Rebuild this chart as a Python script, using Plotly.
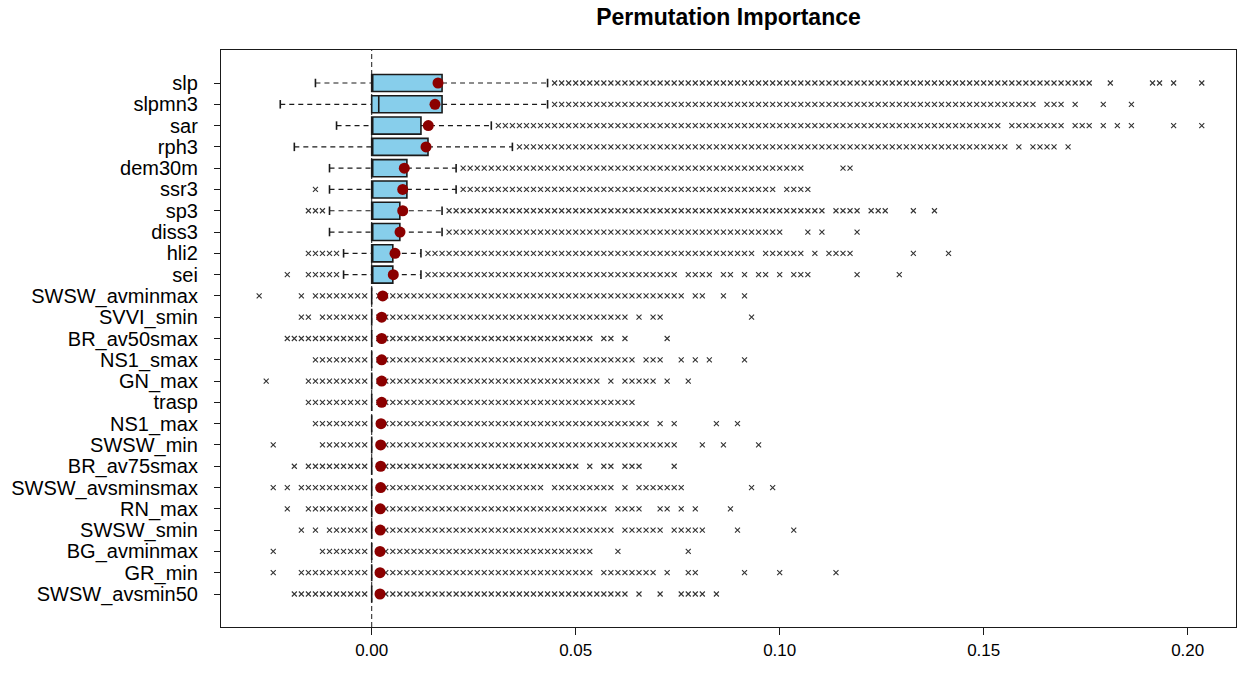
import plotly.graph_objects as go

# Importance values are on a discrete grid; lists below are in grid steps.
STEP = 1 / 580

variables = ["slp", "slpmn3", "sar", "rph3", "dem30m", "ssr3", "sp3", "diss3", "hli2", "sei",
             "SWSW_avminmax", "SVVI_smin", "BR_av50smax", "NS1_smax", "GN_max", "trasp",
             "NS1_max", "SWSW_min", "BR_av75smax", "SWSW_avsminsmax", "RN_max", "SWSW_smin",
             "BG_avminmax", "GR_min", "SWSW_avsmin50"]

# box statistics (grid steps)
whisk_lo = [-8, -13, -5, -11, -6, -6, -6, -6, -4, -4] + [0] * 15
q1 = [0] * 25
median = [0, 1, 0, 0, 0, 0, 0, 0, 0, 0] + [0] * 15
q3 = [10, 10, 7, 8, 5, 5, 4, 4, 3, 3] + [0] * 15
whisk_hi = [25, 25, 17, 20, 12, 12, 10, 10, 7, 7] + [0] * 15

# mean importance (red dots)
means = [0.01625, 0.01551, 0.01387, 0.01331, 0.00799, 0.0076, 0.0076, 0.00694, 0.00571, 0.00529,
         0.0027, 0.00245, 0.00245, 0.00245, 0.00245, 0.00245, 0.00228, 0.0022, 0.0022, 0.0022,
         0.0021, 0.0021, 0.00203, 0.00203, 0.00203]

# outliers (grid steps)
out_slp = [26, 27, 28, 29, 30, 31, 32, 33, 34, 35, 36, 37, 38, 39, 40, 41, 42, 43, 44, 45, 46, 47, 48, 49,
           50, 51, 52, 53, 54, 55, 56, 57, 58, 59, 60, 61, 62, 63, 64, 65, 66, 67, 68, 69, 70, 71, 72, 73,
           74, 75, 76, 77, 78, 79, 80, 81, 82, 83, 84, 85, 86, 87, 88, 89, 90, 91, 92, 93, 94, 95, 96, 97,
           98, 99, 100, 101, 102, 105, 111, 112, 114, 118]
out_slpmn3 = [26, 27, 28, 29, 30, 31, 32, 33, 34, 35, 36, 37, 38, 39, 40, 41, 42, 43, 44, 45, 46, 47, 48, 49,
              50, 51, 52, 53, 54, 55, 56, 57, 58, 59, 60, 61, 62, 63, 64, 65, 66, 67, 68, 69, 70, 71, 72, 73,
              74, 75, 76, 77, 78, 79, 80, 81, 82, 83, 84, 85, 86, 87, 88, 89, 90, 91, 92, 93, 94,
              96, 97, 98, 100, 104, 108]
out_sar = [18, 19, 20, 21, 22, 23, 24, 25, 26, 27, 28, 29, 30, 31, 32, 33, 34, 35, 36, 37, 38, 39, 40, 41,
           42, 43, 44, 45, 46, 47, 48, 49, 50, 51, 52, 53, 54, 55, 56, 57, 58, 59, 60, 61, 62, 63, 64, 65,
           66, 67, 68, 69, 70, 71, 72, 73, 74, 75, 76, 77, 78, 79, 80, 81, 82, 83, 84, 85, 86, 87, 88, 89,
           91, 92, 93, 94, 95, 96, 97, 98, 100, 101, 102, 104, 106, 108, 114, 118]
out_rph3 = [21, 22, 23, 24, 25, 26, 27, 28, 29, 30, 31, 32, 33, 34, 35, 36, 37, 38, 39, 40, 41, 42, 43, 44,
            45, 46, 47, 48, 49, 50, 51, 52, 53, 54, 55, 56, 57, 58, 59, 60, 61, 62, 63, 64, 65, 66, 67, 68,
            69, 70, 71, 72, 73, 74, 75, 76, 77, 78, 79, 80, 81, 82, 83, 84, 85, 86, 87, 88, 89, 90,
            92, 94, 95, 96, 97, 99]
out_dem30m = [13, 14, 15, 16, 17, 18, 19, 20, 21, 22, 23, 24, 25, 26, 27, 28, 29, 30, 31, 32, 33, 34, 35, 36,
              37, 38, 39, 40, 41, 42, 43, 44, 45, 46, 47, 48, 49, 50, 51, 52, 53, 54, 55, 56, 57, 58, 59, 60,
              61, 67, 68]
out_ssr3 = [-8, 13, 14, 15, 16, 17, 18, 19, 20, 21, 22, 23, 24, 25, 26, 27, 28, 29, 30, 31, 32, 33, 34, 35,
            36, 37, 38, 39, 40, 41, 42, 43, 44, 45, 46, 47, 48, 49, 50, 51, 52, 53, 54, 55, 56, 57,
            59, 60, 61, 62]
out_sp3 = [-9, -8, -7, 11, 12, 13, 14, 15, 16, 17, 18, 19, 20, 21, 22, 23, 24, 25, 26, 27, 28, 29, 30, 31,
           32, 33, 34, 35, 36, 37, 38, 39, 40, 41, 42, 43, 44, 45, 46, 47, 48, 49, 50, 51, 52, 53, 54, 55,
           56, 57, 58, 59, 60, 61, 62, 63, 64, 66, 67, 68, 69, 71, 72, 73, 77, 80]
out_diss3 = [11, 12, 13, 14, 15, 16, 17, 18, 19, 20, 21, 22, 23, 24, 25, 26, 27, 28, 29, 30, 31, 32, 33, 34,
             35, 36, 37, 38, 39, 40, 41, 42, 43, 44, 45, 46, 47, 48, 49, 50, 51, 52, 53, 54, 55, 56, 57, 58,
             62, 64, 69]
out_hli2 = [-9, -8, -7, -6, -5, 8, 9, 10, 11, 12, 13, 14, 15, 16, 17, 18, 19, 20, 21, 22, 23, 24, 25, 26,
            27, 28, 29, 30, 31, 32, 33, 34, 35, 36, 37, 38, 39, 40, 41, 42, 43, 44, 45, 46, 47, 48, 49, 50,
            51, 52, 53, 54, 56, 57, 58, 59, 60, 61, 63, 65, 66, 67, 68, 77, 82]
out_sei = [-12, -9, -8, -7, -6, -5, 8, 9, 10, 11, 12, 13, 14, 15, 16, 17, 18, 19, 20, 21, 22, 23, 24, 25,
           26, 27, 28, 29, 30, 31, 32, 33, 34, 35, 36, 37, 38, 39, 40, 41, 42, 43, 45, 46, 47, 48, 50, 51,
           53, 55, 56, 58, 60, 61, 62, 69, 75]
out_SWSW_avminmax = [-16, -10, -8, -7, -6, -5, -4, -3, -2, -1, 1, 2, 3, 4, 5, 6, 7, 8, 9, 10, 11, 12, 13, 14,
                     15, 16, 17, 18, 19, 20, 21, 22, 23, 24, 25, 26, 27, 28, 29, 30, 31, 32, 33, 34, 35, 36,
                     37, 38, 39, 40, 41, 42, 43, 44, 46, 47, 50, 53]
out_SVVI_smin = [-10, -9, -7, -6, -5, -4, -3, -2, -1, 1, 2, 3, 4, 5, 6, 7, 8, 9, 10, 11, 12, 13, 14, 15, 16,
                 17, 18, 19, 20, 21, 22, 23, 24, 25, 26, 27, 28, 29, 30, 31, 32, 33, 34, 35, 36, 38, 40, 41, 54]
out_BR_av50smax = [-12, -11, -10, -9, -8, -7, -6, -5, -4, -3, -2, -1, 1, 2, 3, 4, 5, 6, 7, 8, 9, 10, 11, 12,
                   13, 14, 15, 16, 17, 18, 19, 20, 21, 22, 23, 24, 25, 26, 27, 28, 29, 30, 31, 33, 34, 36, 42]
out_NS1_smax = [-8, -7, -6, -5, -4, -3, -2, -1, 1, 2, 3, 4, 5, 6, 7, 8, 9, 10, 11, 12, 13, 14, 15, 16, 17,
                18, 19, 20, 21, 22, 23, 24, 25, 26, 27, 28, 29, 30, 31, 32, 33, 34, 35, 36, 37, 39, 40, 41,
                44, 46, 48, 53]
out_GN_max = [-15, -9, -8, -7, -6, -5, -4, -3, -2, -1, 1, 2, 3, 4, 5, 6, 7, 8, 9, 10, 11, 12, 13, 14, 15, 16,
              17, 18, 19, 20, 21, 22, 23, 24, 25, 26, 27, 28, 29, 30, 31, 32, 34, 36, 37, 38, 39, 40, 42, 45]
out_trasp = [-9, -8, -7, -6, -5, -4, -3, -2, -1, 1, 2, 3, 4, 5, 6, 7, 8, 9, 10, 11, 12, 13, 14, 15, 16, 17,
             18, 19, 20, 21, 22, 23, 24, 25, 26, 27, 28, 29, 30, 31, 32, 33, 34, 35, 36, 37]
out_NS1_max = [-8, -7, -6, -5, -4, -3, -2, -1, 1, 2, 3, 4, 5, 6, 7, 8, 9, 10, 11, 12, 13, 14, 15, 16, 17, 18,
               19, 20, 21, 22, 23, 24, 25, 26, 27, 28, 29, 30, 31, 32, 33, 34, 35, 36, 37, 38, 39, 41, 43,
               49, 52]
out_SWSW_min = [-14, -7, -6, -5, -4, -3, -2, -1, 1, 2, 3, 4, 5, 6, 7, 8, 9, 10, 11, 12, 13, 14, 15, 16, 17,
                18, 19, 20, 21, 22, 23, 24, 25, 26, 27, 28, 29, 30, 31, 32, 33, 34, 35, 36, 37, 38, 39, 40,
                41, 42, 43, 47, 50, 55]
out_BR_av75smax = [-11, -9, -8, -7, -6, -5, -4, -3, -2, -1, 1, 2, 3, 4, 5, 6, 7, 8, 9, 10, 11, 12, 13, 14,
                   15, 16, 17, 18, 19, 20, 21, 22, 23, 24, 25, 26, 27, 28, 29, 31, 33, 34, 36, 37, 38, 43]
out_SWSW_avsminsmax = [-14, -12, -10, -9, -8, -7, -6, -5, -4, -3, -2, -1, 1, 2, 3, 4, 5, 6, 7, 8, 9, 10, 11,
                       12, 13, 14, 15, 16, 17, 18, 19, 20, 21, 22, 23, 24, 26, 27, 28, 29, 30, 31, 32, 33,
                       34, 36, 38, 39, 40, 41, 42, 43, 44, 54, 57]
out_RN_max = [-12, -9, -8, -7, -6, -5, -4, -3, -2, -1, 1, 2, 3, 4, 5, 6, 7, 8, 9, 10, 11, 12, 13, 14, 15, 16,
              17, 18, 19, 20, 21, 22, 23, 24, 25, 26, 27, 28, 29, 30, 31, 32, 33, 35, 36, 37, 38, 41, 42, 44,
              46, 51]
out_SWSW_smin = [-10, -8, -6, -5, -4, -3, -2, -1, 1, 2, 3, 4, 5, 6, 7, 8, 9, 10, 11, 12, 13, 14, 15, 16, 17,
                 18, 19, 20, 21, 22, 23, 24, 25, 26, 27, 28, 29, 30, 31, 32, 33, 34, 36, 37, 38, 39, 40, 41,
                 43, 44, 45, 46, 47, 52, 60]
out_BG_avminmax = [-14, -7, -6, -5, -4, -3, -2, -1, 1, 2, 3, 4, 5, 6, 7, 8, 9, 10, 11, 12, 13, 14, 15, 16,
                   17, 18, 19, 20, 21, 22, 23, 24, 25, 26, 27, 28, 29, 30, 31, 35, 45]
out_GR_min = [-14, -10, -9, -8, -7, -6, -5, -4, -3, -2, -1, 1, 2, 3, 4, 5, 6, 7, 8, 9, 10, 11, 12, 13, 14,
              15, 16, 17, 18, 19, 20, 21, 22, 23, 24, 25, 26, 27, 28, 29, 30, 31, 33, 34, 35, 36, 37, 38,
              39, 40, 42, 45, 46, 53, 58, 66]
out_SWSW_avsmin50 = [-11, -10, -9, -8, -7, -6, -5, -4, -3, -2, -1, 1, 2, 3, 4, 5, 6, 7, 8, 9, 10, 11, 12,
                     13, 14, 15, 16, 17, 18, 19, 20, 21, 22, 23, 24, 25, 26, 27, 28, 29, 30, 31, 32, 33, 34,
                     35, 36, 38, 41, 44, 45, 46, 47, 49]

outliers = [out_slp, out_slpmn3, out_sar, out_rph3, out_dem30m, out_ssr3, out_sp3, out_diss3, out_hli2,
            out_sei, out_SWSW_avminmax, out_SVVI_smin, out_BR_av50smax, out_NS1_smax, out_GN_max,
            out_trasp, out_NS1_max, out_SWSW_min, out_BR_av75smax, out_SWSW_avsminsmax, out_RN_max,
            out_SWSW_smin, out_BG_avminmax, out_GR_min, out_SWSW_avsmin50]

x_ticks = [0.0, 0.05, 0.10, 0.15, 0.20]
x_ticktext = ["0.00", "0.05", "0.10", "0.15", "0.20"]

n = len(variables)
pos = [n - i for i in range(n)]
FONT = "Liberation Sans, Arial, sans-serif"
INK = "#1a1a1a"

fig = go.Figure()

# boxes
for i in range(n):
    fig.add_trace(go.Box(
        y=[pos[i]], q1=[q1[i] * STEP], median=[median[i] * STEP], q3=[q3[i] * STEP],
        lowerfence=[q1[i] * STEP], upperfence=[q3[i] * STEP],
        orientation="h", width=0.8, whiskerwidth=0, boxpoints=False,
        fillcolor="#87CEEB", line=dict(color=INK, width=1.6), showlegend=False,
        hoverinfo="skip"))

# dashed whiskers and staples
wx, wy, sx, sy = [], [], [], []
for i in range(n):
    if whisk_lo[i] < q1[i]:
        wx += [whisk_lo[i] * STEP, q1[i] * STEP, None]
        wy += [pos[i], pos[i], None]
        sx += [whisk_lo[i] * STEP, whisk_lo[i] * STEP, None]
        sy += [pos[i] - 0.2, pos[i] + 0.2, None]
    if whisk_hi[i] > q3[i]:
        wx += [q3[i] * STEP, whisk_hi[i] * STEP, None]
        wy += [pos[i], pos[i], None]
        sx += [whisk_hi[i] * STEP, whisk_hi[i] * STEP, None]
        sy += [pos[i] - 0.2, pos[i] + 0.2, None]
fig.add_trace(go.Scatter(x=wx, y=wy, mode="lines", line=dict(color=INK, width=1.2, dash="5px,4px"),
                         showlegend=False, hoverinfo="skip"))
fig.add_trace(go.Scatter(x=sx, y=sy, mode="lines", line=dict(color=INK, width=1.6),
                         showlegend=False, hoverinfo="skip"))

# outliers
ox, oy = [], []
for i in range(n):
    for k in outliers[i]:
        ox.append(k * STEP)
        oy.append(pos[i])
fig.add_trace(go.Scatter(x=ox, y=oy, mode="markers",
                         marker=dict(symbol="x-thin", size=5, line=dict(color="#333333", width=1.1)),
                         showlegend=False, hoverinfo="skip"))

# means
fig.add_trace(go.Scatter(x=means, y=pos, mode="markers",
                         marker=dict(symbol="circle", size=11, color="#8B0000"),
                         showlegend=False, hoverinfo="skip"))

fig.add_shape(type="line", xref="x", yref="paper", x0=0, x1=0, y0=0, y1=1,
              line=dict(color=INK, width=1, dash="5px,3px"), layer="below")

fig.update_layout(
    width=1237, height=679,
    margin=dict(l=221, r=1, t=50, b=52, autoexpand=False),
    paper_bgcolor="white", plot_bgcolor="white",
    title=dict(text="<b>Permutation Importance</b>", x=(221 + 1236) / 2 / 1237, xanchor="center",
               y=1 - 17 / 679, yanchor="middle", font=dict(family=FONT, size=23, color="black")),
    font=dict(family=FONT, color="black"),
    xaxis=dict(range=[-0.03694, 0.21184], tickvals=x_ticks, ticktext=x_ticktext,
               showgrid=False, zeroline=False, showline=True, mirror=True, linecolor=INK, linewidth=1.2,
               ticks="outside", ticklen=7, tickcolor=INK, tickfont=dict(size=17, family=FONT)),
    yaxis=dict(range=[-0.55, n + 1.55], tickvals=pos, ticktext=variables,
               showgrid=False, zeroline=False, showline=True, mirror=True, linecolor=INK, linewidth=1.2,
               ticks="outside", ticklen=6, tickcolor=INK, ticklabelstandoff=12,
               tickfont=dict(size=20, family=FONT)),
)

fig.write_html("out.html", config={"displayModeBar": False},
               post_script="document.body.style.margin='0px';document.body.style.overflow='hidden';")
